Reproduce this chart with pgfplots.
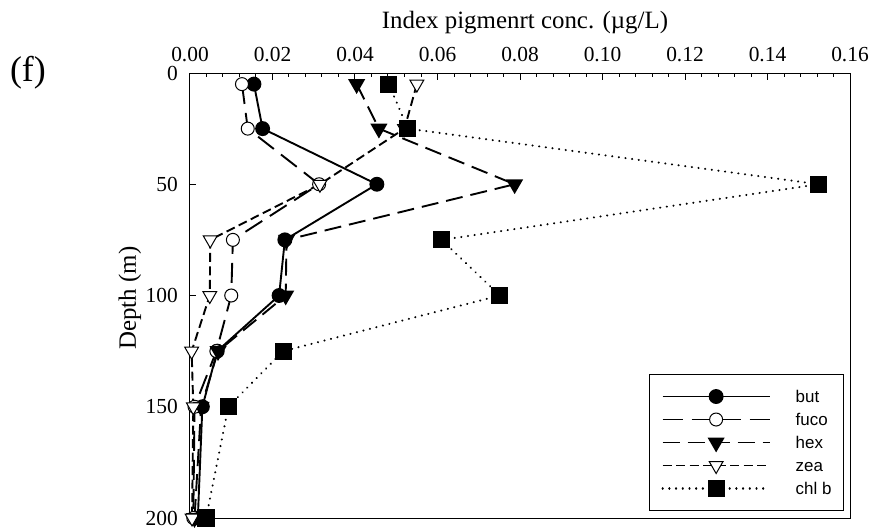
\documentclass[border=0pt]{standalone}
\usepackage{fontspec}
\setmainfont{Liberation Serif}
\setsansfont{Liberation Sans}
\usepackage{pgfplots}
\pgfplotsset{compat=1.18}

\begin{document}
\begin{tikzpicture}
\useasboundingbox (-190bp,-11bp) rectangle (683bp,518bp);
\begin{axis}[
    at={(0,0)}, anchor=south west,
    scale only axis, width=660bp, height=445bp,
    xmin=0, xmax=0.16, ymin=0, ymax=200,
    y dir=reverse,
    clip=false,
    axis line style={line width=1bp},
    xtick={0,0.02,0.04,0.06,0.08,0.10,0.12,0.14,0.16},
    minor x tick num=4,
    ytick={0,50,100,150,200},
    xtick pos=right, xticklabel pos=right,
    ytick pos=left,
    tick align=inside,
    major tick length=6.5bp, minor tick length=4bp,
    tick style={black, line width=1bp},
    /pgf/number format/assume math mode=true,
    xticklabel style={font=\fontsize{21.5}{22}\selectfont, anchor=base, inner sep=0pt, yshift=12bp,
        /pgf/number format/.cd, fixed, fixed zerofill, precision=2},
    yticklabel style={font=\fontsize{21.5}{22}\selectfont, anchor=east, inner sep=0pt, xshift=-12bp},
    xlabel={Index pigmenrt conc. (µg/L)},
    xlabel style={at={(axis description cs:0.5076,1.101)}, anchor=base, inner sep=0pt,
        font=\fontsize{25}{25}\selectfont},
    ylabel={Depth (m)},
    ylabel style={at={(axis description cs:-0.0909,0.494)}, anchor=center,
        font=\fontsize{25}{25}\selectfont},
    legend cell align=left,
    legend image code/.code={
        \draw[mark repeat=2, mark phase=2, #1] plot coordinates {(0bp,0bp) (53.5bp,0bp) (107bp,0bp)};
    },
    legend style={at={(axis description cs:0.6955,0.0157)}, anchor=south west,
        draw=black, line width=1bp, inner xsep=12bp, inner ysep=10.5bp, row sep=0pt,
        font=\sffamily\fontsize{17}{17}\selectfont,
        nodes={inner sep=0pt, text height=17.5bp, text depth=5.5bp},
        /tikz/every odd column/.append style={column sep=25bp}},
]

% but
\addplot[black, line width=1.9bp, solid, mark=*, mark size=6.5bp, mark options={solid, fill=black}]
    coordinates {(0.0155,5) (0.0176,25) (0.0453,50) (0.0230,75) (0.0216,100) (0.0066,125) (0.0030,150) (0.0019,200)};
\addlegendentry{but}

% fuco
\addplot[black, line width=1.9bp, dash pattern=on 20bp off 9bp, mark=*, mark size=6.5bp, mark options={solid, fill=white, line width=1bp}]
    coordinates {(0.0126,5) (0.0140,25) (0.0313,50) (0.0104,75) (0.0100,100) (0.0064,125) (0.0011,150) (0.0008,200)};
\addlegendentry{fuco}

% hex
\addplot[black, line width=1.9bp, dash pattern=on 17bp off 8bp, mark=triangle*, mark size=8bp, mark options={solid, fill=black, rotate=180}]
    coordinates {(0.0404,5) (0.0458,25) (0.0787,50) (0.0234,75) (0.0232,100) (0.0068,125) (0.0027,150) (0.0011,200)};
\addlegendentry{hex}

% zea
\addplot[black, line width=1.9bp, dash pattern=on 9bp off 4.5bp, mark=triangle*, mark size=8bp, mark options={solid, fill=white, line width=1bp, rotate=180}]
    coordinates {(0.0550,5) (0.0520,25) (0.0315,50) (0.0049,75) (0.0048,100) (0.0004,125) (0.0008,150) (0.0005,200)};
\addlegendentry{zea}

% chl b
\addplot[black, line width=2.2bp, line cap=round, dash pattern=on 0.1bp off 6.6bp, mark=square*, mark size=7.5bp, mark options={solid, fill=black}]
    coordinates {(0.0482,5) (0.0528,25) (0.1524,50) (0.0610,75) (0.0751,100) (0.0226,125) (0.0093,150) (0.0039,200)};
\addlegendentry{chl b}

\node[font=\fontsize{36}{36}\selectfont, inner sep=0pt] at (axis description cs:-0.2455,1.0) {(f)};
\end{axis}
\end{tikzpicture}
\end{document}
